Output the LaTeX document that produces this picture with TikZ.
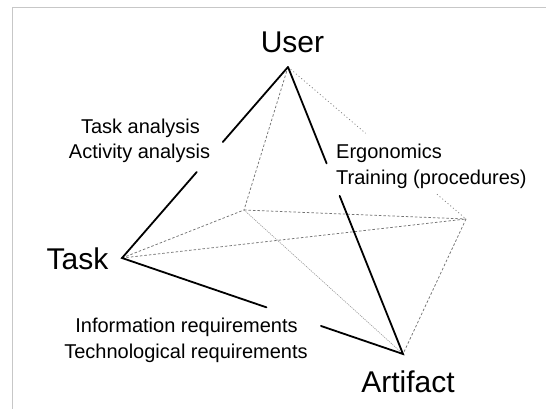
\documentclass[tikz,border=0pt]{standalone}
\usepackage{fontspec}
\setmainfont{Liberation Sans}
\usetikzlibrary{calc}
\begin{document}
\begin{tikzpicture}[x=1pt,y=-1pt,
  bigtxt/.style={font=\fontsize{30}{34}\selectfont, anchor=base, inner sep=0pt},
  smalltxt/.style={font=\fontsize{20}{24}\selectfont, anchor=base, inner sep=0pt},
  edgebold/.style={line width=1.8pt, black},
  hidden/.style={line width=0.75pt, black!55, dash pattern=on 2.5pt off 2pt},
  hiddendot/.style={line width=0.75pt, black!50, dash pattern=on 1pt off 2.5pt},
  hiddenfine/.style={line width=0.6pt, black!40, dash pattern=on 1.2pt off 1pt},
  frameline/.style={line width=1.4pt, black!22}
]
\useasboundingbox (0,0) rectangle (546,409);
% frame
\coordinate (f1) at (12.5,409);
\coordinate (f2) at (12.5,7.5);
\coordinate (f3) at (546,7.5);
\draw[frameline] (f1) -- (f2) -- (f3);

% vertices
\coordinate (U) at (288,67);
\coordinate (T) at (122,258);
\coordinate (A) at (403,354);
\coordinate (B) at (244,210);
\coordinate (R) at (466,219);

% hidden edges
\draw[hidden] (U) -- (B);
\draw[hidden] (T) -- (B);
\draw[hidden] (T) -- (R);
\draw[hidden] (B) -- (R);
\draw[hidden] (R) -- (A);
\draw[hiddenfine] (B) -- (A);
\coordinate (ur1) at ($(U)!0.436!(R)$);
\coordinate (ur2) at ($(U)!0.837!(R)$);
\draw[hiddendot] (U) -- (ur1);
\draw[hiddendot] (ur2) -- (R);

% visible edges (broken for labels)
\coordinate (ut1) at ($(U)!0.393!(T)$);
\coordinate (ut2) at ($(U)!0.55!(T)$);
\draw[edgebold, line cap=round] (U) -- (ut1);
\draw[edgebold, line cap=round, line join=miter] (ut2) -- (T) -- ($(T)!0.514!(A)$) coordinate (ta1);
\coordinate (ta2) at ($(T)!0.708!(A)$);
\coordinate (ua1) at ($(U)!0.336!(A)$);
\coordinate (ua2) at ($(U)!0.449!(A)$);
\draw[edgebold, line cap=round] (U) -- (ua1);
\draw[edgebold, line cap=round, line join=miter] (ua2) -- (A) -- (ta2);

% labels
\node[bigtxt] (lu) at (292.5,52.3) {User};
\node[bigtxt] (lt) at (77.5,269.3) {Task};
\node[bigtxt] (la) at (408,392) {Artifact};

\node[smalltxt] (l1) at (140.5,134) {Task analysis};
\node[smalltxt] (l2) at (139.5,158) {Activity analysis};
\node[smalltxt, anchor=base west] (l3) at (336,158) {Ergonomics};
\node[smalltxt, anchor=base west] (l4) at (336,184) {Training (procedures)};
\node[smalltxt] (l5) at (186.5,332.7) {Information requirements};
\node[smalltxt] (l6) at (186,358.3) {Technological requirements};
\end{tikzpicture}
\end{document}
